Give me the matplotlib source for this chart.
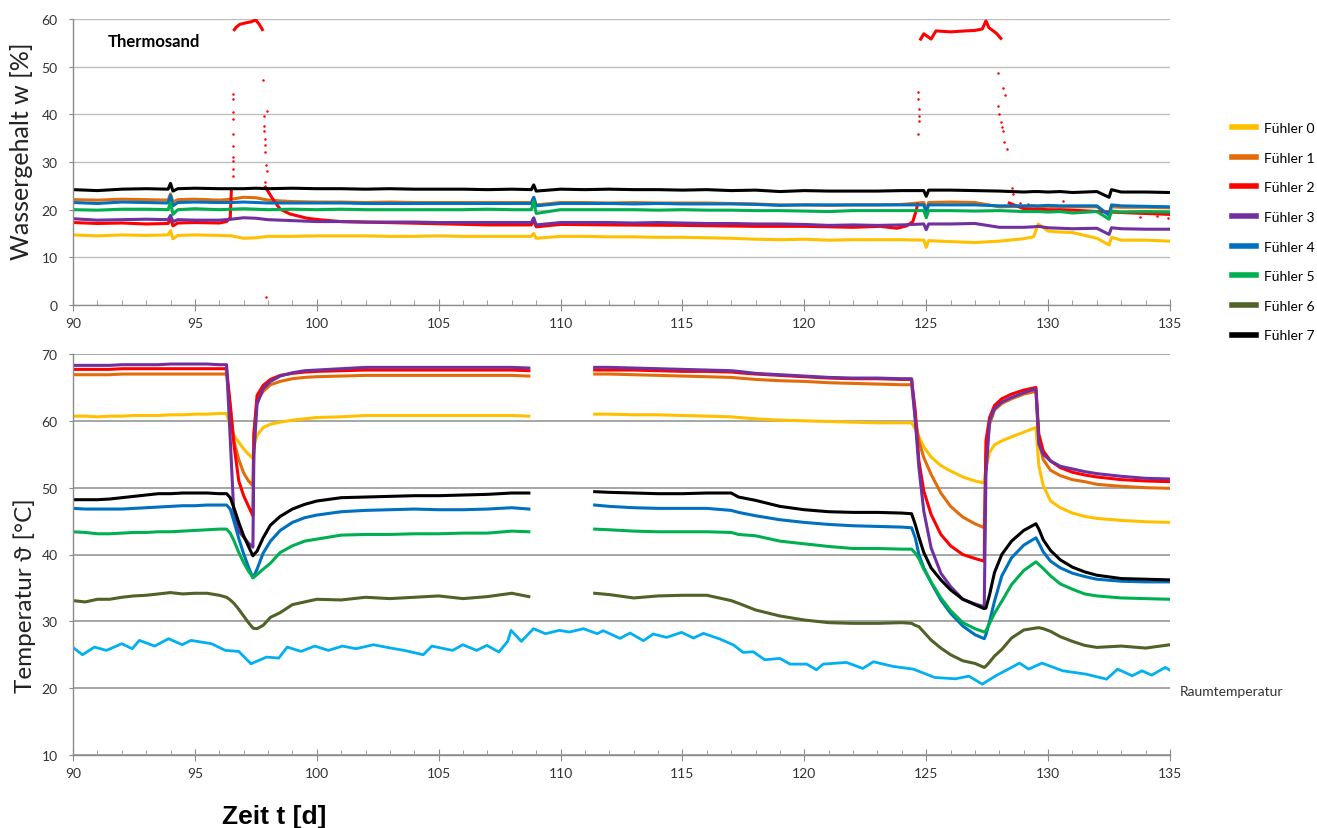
import matplotlib
matplotlib.use("Agg")
import matplotlib.pyplot as plt
from matplotlib.lines import Line2D
from matplotlib.ticker import MultipleLocator
import numpy as np

plt.rcParams["font.family"] = ["Lato", "DejaVu Sans"]

nan = np.nan

labels = ["Fühler 0", "Fühler 1", "Fühler 2", "Fühler 3",
          "Fühler 4", "Fühler 5", "Fühler 6", "Fühler 7"]
colors = ["#FFC000", "#E36C0A", "#FF0000", "#7030A0",
          "#0070C0", "#00B050", "#4F6228", "#000000"]
room_color = "#00B0F0"

# ---------------- Wassergehalt (top panel) ----------------
t_water = [90, 91, 92, 93, 93.9, 94.0, 94.1, 94.3, 95, 96, 96.5, 97, 97.5, 98, 99, 100,
           101, 102, 103, 104, 105, 106, 107, 108, 108.8, 108.9, 109.0, 110, 111, 112,
           113, 114, 115, 116, 117, 118, 119, 120, 121, 122, 123, 124, 124.9, 125.0, 125.1,
           126, 127, 128, 129, 129.4, 129.6, 130, 130.5, 131, 132, 132.5, 132.6, 133, 134, 135]

w0 = [14.7, 14.5, 14.7, 14.6, 14.7, 15.6, 13.9, 14.6, 14.7, 14.6, 14.5, 14.0, 14.1, 14.4, 14.4, 14.5,
      14.5, 14.5, 14.4, 14.4, 14.5, 14.4, 14.4, 14.4, 14.4, 15.0, 14.0, 14.4, 14.4, 14.3,
      14.3, 14.2, 14.2, 14.1, 14.0, 13.8, 13.7, 13.8, 13.6, 13.7, 13.7, 13.7, 13.6, 12.1, 13.5,
      13.3, 13.1, 13.4, 13.9, 14.3, 17.0, 15.5, 15.3, 15.2, 14.0, 12.6, 14.2, 13.6, 13.6, 13.4]
w1 = [22.1, 22.0, 22.2, 22.1, 22.0, 23.3, 21.6, 22.1, 22.2, 22.0, 22.2, 22.6, 22.5, 22.0, 21.7, 21.6,
      21.6, 21.5, 21.6, 21.5, 21.5, 21.5, 21.5, 21.5, 21.5, 22.5, 21.0, 21.5, 21.5, 21.4,
      21.5, 21.4, 21.4, 21.4, 21.3, 21.2, 21.0, 21.0, 20.9, 21.0, 21.0, 21.1, 21.5, 20.0, 21.5,
      21.6, 21.5, 20.6, 20.7, 20.8, 20.6, 20.7, 20.5, 20.6, 20.6, 19.0, 20.6, 20.5, 20.5, 20.4]
w3 = [18.1, 17.8, 17.9, 18.0, 17.9, 18.8, 17.5, 17.9, 17.8, 17.8, 18.0, 18.3, 18.2, 17.9, 17.7, 17.5,
      17.5, 17.4, 17.4, 17.4, 17.3, 17.3, 17.3, 17.3, 17.3, 18.3, 16.8, 17.3, 17.3, 17.3,
      17.2, 17.3, 17.2, 17.1, 17.1, 17.0, 17.0, 16.9, 16.7, 16.8, 16.7, 16.8, 17.0, 15.8, 17.0,
      17.0, 17.1, 16.3, 16.3, 16.4, 16.5, 16.2, 16.1, 16.0, 16.1, 14.8, 16.2, 16.0, 15.9, 15.9]
w4 = [21.5, 21.3, 21.6, 21.5, 21.4, 23.0, 20.8, 21.5, 21.6, 21.5, 21.5, 21.6, 21.5, 21.4, 21.4, 21.4,
      21.4, 21.3, 21.3, 21.3, 21.3, 21.3, 21.3, 21.3, 21.3, 22.6, 20.8, 21.3, 21.3, 21.3,
      21.2, 21.3, 21.2, 21.2, 21.2, 21.1, 20.9, 21.0, 21.0, 21.0, 21.0, 21.0, 21.0, 19.5, 21.0,
      21.0, 21.0, 20.8, 20.8, 20.8, 20.8, 20.9, 20.8, 20.8, 20.8, 18.8, 21.0, 20.8, 20.7, 20.6]
w5 = [20.0, 19.9, 20.1, 20.1, 20.0, 21.5, 19.0, 20.0, 20.2, 20.0, 20.1, 20.2, 20.1, 20.0, 20.1, 20.0,
      20.1, 20.0, 20.0, 20.0, 20.0, 20.0, 20.1, 20.0, 20.0, 21.8, 19.2, 20.0, 20.0, 20.0,
      20.0, 19.9, 20.0, 19.9, 19.9, 19.8, 19.8, 19.7, 19.6, 19.8, 19.8, 19.8, 19.8, 18.3, 19.8,
      19.8, 19.7, 19.8, 19.6, 19.6, 19.6, 19.5, 19.6, 19.3, 19.6, 18.0, 19.7, 19.5, 19.6, 19.5]
w7 = [24.2, 24.0, 24.3, 24.4, 24.3, 25.5, 23.9, 24.4, 24.5, 24.4, 24.4, 24.4, 24.5, 24.4, 24.5, 24.4,
      24.4, 24.3, 24.4, 24.3, 24.3, 24.3, 24.2, 24.3, 24.2, 25.2, 23.9, 24.3, 24.2, 24.3,
      24.2, 24.2, 24.1, 24.2, 24.0, 24.1, 23.8, 24.0, 23.9, 23.9, 23.9, 24.0, 24.0, 22.8, 24.1,
      24.1, 24.0, 23.9, 23.7, 23.8, 23.8, 23.7, 23.8, 23.6, 23.8, 22.6, 24.2, 23.7, 23.7, 23.6]

# Fühler 2 has its own time base (jumps to ~58 % twice)
t_w2 = [90, 91, 92, 93, 93.9, 94.0, 94.1, 94.3, 95, 96, 96.3, 96.45, 96.5, 96.55,
        96.58, 96.7, 96.85, 97.1, 97.3, 97.5, 97.65, 97.8, 97.83,
        97.86, 98.2, 98.5, 98.9, 99.6, 100.1, 101, 103.7, 107, 108.8, 108.9, 109.0,
        110, 112, 115, 118, 120, 122, 123.1, 123.8, 124.2, 124.45, 124.6, 124.65, 124.7,
        124.74, 124.9, 125.2, 125.4, 126.0, 126.6, 127.0, 127.3, 127.45, 127.57, 127.9, 128.1, 128.2,
        128.35, 129, 130, 131, 132, 133, 134, 135]
w2 = [17.3, 17.1, 17.2, 17.0, 17.1, 18.3, 16.6, 17.2, 17.3, 17.2, 17.5, 18.3, 24.5, nan,
      57.5, 58.3, 58.9, 59.2, 59.4, 59.8, 58.8, 57.5, nan,
      25.0, 22.2, 20.1, 19.1, 18.2, 17.9, 17.5, 17.2, 16.8, 16.8, 17.8, 16.4,
      16.9, 16.8, 16.7, 16.5, 16.5, 16.3, 16.5, 16.1, 16.6, 17.5, 20.0, 21.5, nan,
      55.5, 56.9, 55.8, 57.5, 57.3, 57.5, 57.6, 57.9, 59.6, 58.2, 56.9, 55.7, nan,
      21.5, 20.2, 20.0, 19.9, 19.6, 19.4, 19.2, 19.0]

# isolated Fühler 2 readings during the jumps
t_w2_dots = [96.55, 96.55, 96.56, 96.56, 96.56, 96.57, 96.57, 96.57, 96.58, 96.58,
             97.81, 97.95, 97.85, 97.85, 97.84, 97.86, 97.88, 97.88, 97.9, 97.94, 97.88, 97.9,
             124.67, 124.68, 124.7, 124.7, 124.72, 124.65,
             127.95, 128.16, 128.23, 127.95, 128.0, 128.08, 128.1, 128.15, 128.19, 128.3,
             128.5, 128.56, 128.84, 129.18, 130.62, 133.77, 134.45, 134.9]
w2_dots = [44.3, 43.2, 40.4, 39.0, 35.9, 33.4, 31.0, 30.3, 28.5, 27.1,
           47.1, 40.8, 39.6, 37.6, 36.5, 34.8, 33.5, 32.1, 29.3, 28.2, 25.8, 1.6,
           44.6, 43.2, 41.1, 39.6, 38.6, 35.8,
           48.7, 45.5, 44.0, 41.8, 40.0, 38.3, 37.3, 36.5, 34.3, 32.7,
           24.6, 23.2, 21.4, 21.1, 21.8, 18.4, 18.6, 18.2]

# ---------------- Temperatur (bottom panel) ----------------
t_temp = [90, 90.5, 91, 91.5, 92, 92.5, 93, 93.5, 94, 94.5, 95, 95.5, 96, 96.3,
          96.45, 96.6, 96.8, 97.0, 97.2, 97.38, 97.42, 97.55, 97.8, 98.1, 98.5, 99, 99.5, 100,
          101, 102, 103, 104, 105, 106, 107, 108, 108.7,
          110,
          111.4, 112, 113, 114, 115, 116, 117, 117.3, 118, 119, 120, 121, 122, 123, 124, 124.4,
          124.55, 124.7, 124.9, 125.2, 125.6, 126, 126.5, 127, 127.38, 127.45, 127.6, 127.8, 128.1,
          128.5, 129, 129.5, 129.62, 129.8, 130.1, 130.5, 131, 131.5, 132, 133, 134, 135]

T0 = [60.7, 60.7, 60.6, 60.7, 60.7, 60.8, 60.8, 60.8, 60.9, 60.9, 61.0, 61.0, 61.1, 61.1,
      59.3, 57.8, 56.8, 55.8, 55.0, 54.4, 56.3, 57.8, 59.0, 59.5, 59.8, 60.1, 60.3, 60.5,
      60.6, 60.8, 60.8, 60.8, 60.8, 60.8, 60.8, 60.8, 60.7,
      nan,
      61.0, 61.0, 60.9, 60.9, 60.8, 60.7, 60.6, 60.5, 60.3, 60.1, 60.0, 59.9, 59.8, 59.7, 59.7, 59.7,
      58.8, 57.6, 56.1, 54.6, 53.3, 52.5, 51.6, 51.0, 50.7, 53.0, 55.3, 56.4, 57.0,
      57.6, 58.3, 59.0, 53.3, 50.3, 48.0, 47.0, 46.2, 45.7, 45.4, 45.1, 44.9, 44.8]
T1 = [66.9, 66.9, 66.9, 66.9, 67.0, 67.0, 67.0, 67.0, 67.0, 67.0, 67.0, 67.0, 67.0, 67.0,
      62.0, 57.0, 54.2, 52.2, 51.0, 50.3, 58.0, 63.0, 64.4, 65.4, 65.9, 66.3, 66.5, 66.6,
      66.7, 66.8, 66.8, 66.8, 66.8, 66.8, 66.8, 66.8, 66.7,
      nan,
      67.0, 67.0, 66.9, 66.8, 66.7, 66.6, 66.5, 66.4, 66.2, 66.0, 65.9, 65.7, 65.6, 65.5, 65.4, 65.4,
      60.5, 57.0, 54.5, 52.0, 49.2, 47.2, 45.6, 44.6, 44.0, 55.0, 59.5, 61.6, 62.6,
      63.3, 64.0, 64.4, 57.0, 54.2, 52.6, 51.8, 51.2, 50.9, 50.5, 50.2, 50.0, 49.9]
T2 = [67.7, 67.7, 67.7, 67.7, 67.8, 67.8, 67.8, 67.8, 67.8, 67.8, 67.8, 67.8, 67.8, 67.8,
      62.5, 56.5, 51.0, 48.8, 47.2, 45.8, 58.0, 63.8, 65.3, 66.2, 66.8, 67.1, 67.3, 67.4,
      67.5, 67.6, 67.6, 67.6, 67.6, 67.6, 67.6, 67.6, 67.5,
      nan,
      67.6, 67.6, 67.6, 67.5, 67.4, 67.4, 67.3, 67.2, 67.0, 66.8, 66.6, 66.4, 66.3, 66.3, 66.2, 66.2,
      61.5, 54.0, 49.5, 46.0, 43.0, 41.3, 40.0, 39.4, 39.0, 57.0, 60.5, 62.3, 63.3,
      64.0, 64.6, 65.0, 58.0, 55.5, 54.0, 53.0, 52.3, 51.9, 51.6, 51.2, 51.0, 50.9]
T3 = [68.3, 68.3, 68.3, 68.3, 68.4, 68.4, 68.4, 68.4, 68.5, 68.5, 68.5, 68.5, 68.4, 68.4,
      57.3, 46.0, 43.5, 42.6, 41.7, 41.1, 55.0, 62.5, 64.8, 65.9, 66.7, 67.2, 67.5, 67.6,
      67.8, 68.0, 68.0, 68.0, 68.0, 68.0, 68.0, 68.0, 67.9,
      nan,
      68.0, 68.0, 67.9, 67.8, 67.7, 67.6, 67.5, 67.4, 67.1, 66.9, 66.7, 66.5, 66.4, 66.4, 66.3, 66.3,
      60.0, 53.0, 46.5, 41.0, 37.2, 35.2, 33.3, 32.6, 32.2, 52.0, 60.0, 61.8, 62.8,
      63.5, 64.2, 64.8, 56.5, 55.0, 54.0, 53.2, 52.8, 52.4, 52.1, 51.7, 51.4, 51.3]
T4 = [46.9, 46.8, 46.8, 46.8, 46.8, 46.9, 47.0, 47.1, 47.2, 47.3, 47.3, 47.4, 47.4, 47.4,
      46.8, 45.0, 42.4, 40.1, 38.1, 36.5, 36.8, 37.8, 40.2, 42.0, 43.6, 44.8, 45.5, 45.9,
      46.4, 46.6, 46.7, 46.8, 46.7, 46.7, 46.8, 47.0, 46.8,
      nan,
      47.4, 47.2, 47.0, 46.9, 46.9, 46.9, 46.6, 46.3, 45.8, 45.2, 44.8, 44.5, 44.3, 44.2, 44.1, 44.0,
      42.5, 40.0, 38.0, 35.8, 33.2, 31.2, 29.3, 28.0, 27.4, 28.0, 30.0, 33.0, 36.8,
      39.5, 41.4, 42.5, 41.7, 40.4, 39.0, 38.0, 37.2, 36.7, 36.3, 36.0, 35.9, 35.9]
T5 = [43.4, 43.3, 43.1, 43.1, 43.2, 43.3, 43.3, 43.4, 43.4, 43.5, 43.6, 43.7, 43.8, 43.8,
      43.2, 42.1, 40.3, 38.8, 37.5, 36.6, 36.6, 37.0, 37.8, 38.7, 40.3, 41.3, 42.0, 42.3,
      42.9, 43.0, 43.0, 43.1, 43.1, 43.2, 43.2, 43.5, 43.4,
      nan,
      43.8, 43.7, 43.5, 43.4, 43.4, 43.4, 43.3, 43.0, 42.8, 42.0, 41.6, 41.2, 40.9, 40.9, 40.8, 40.8,
      40.2, 39.4, 37.8, 35.9, 33.5, 31.6, 29.8, 28.9, 28.4, 28.6, 29.7, 31.2, 33.0,
      35.5, 37.6, 38.9, 38.5, 37.9, 36.8, 35.6, 34.8, 34.1, 33.8, 33.5, 33.4, 33.3]
T6 = [33.1, 32.9, 33.3, 33.3, 33.6, 33.8, 33.9, 34.1, 34.3, 34.1, 34.2, 34.2, 33.9, 33.6,
      33.2, 32.7, 31.8, 30.8, 29.8, 29.0, 28.95, 28.9, 29.4, 30.6, 31.3, 32.5, 32.9, 33.3,
      33.2, 33.6, 33.4, 33.6, 33.8, 33.4, 33.7, 34.2, 33.7,
      nan,
      34.2, 34.0, 33.5, 33.8, 33.9, 33.9, 33.1, 32.7, 31.7, 30.8, 30.2, 29.8, 29.7, 29.7, 29.8, 29.7,
      29.4, 29.2, 28.4, 27.2, 26.0, 25.0, 24.1, 23.7, 23.1, 23.3, 23.9, 24.8, 25.8,
      27.5, 28.7, 29.0, 29.05, 28.9, 28.5, 27.7, 27.0, 26.4, 26.1, 26.3, 26.0, 26.5]
T7 = [48.2, 48.2, 48.2, 48.3, 48.5, 48.7, 48.9, 49.1, 49.1, 49.2, 49.2, 49.2, 49.1, 49.1,
      48.5, 47.0, 44.8, 42.8, 41.2, 39.8, 40.0, 40.5, 42.5, 44.4, 45.7, 46.8, 47.5, 48.0,
      48.5, 48.6, 48.7, 48.8, 48.8, 48.9, 49.0, 49.2, 49.2,
      nan,
      49.4, 49.3, 49.2, 49.1, 49.1, 49.2, 49.2, 48.6, 48.1, 47.2, 46.7, 46.4, 46.3, 46.3, 46.2, 46.1,
      44.5, 42.6, 40.3, 38.0, 36.2, 34.7, 33.3, 32.5, 31.9, 32.0, 34.0, 37.3, 40.0,
      42.0, 43.6, 44.6, 43.8, 42.2, 40.6, 39.2, 38.1, 37.4, 36.9, 36.4, 36.3, 36.2]

# Raumtemperatur
t_room = [90.03, 90.39, 90.88, 91.37, 92.0, 92.43, 92.72, 93.35, 93.92, 94.48,
          94.84, 95.68, 96.25, 96.8, 97.3, 97.94, 98.44, 98.79, 99.35, 99.92,
          100.48, 101.05, 101.61, 102.32, 103.03, 103.59, 104.37, 104.72, 105.57, 105.99,
          106.56, 106.98, 107.47, 107.83, 107.97, 108.39, 108.89, 109.38, 109.95, 110.37,
          110.94, 111.5, 111.75, 112.44, 112.85, 113.4, 113.8, 114.35, 114.97, 115.45,
          115.86, 116.54, 117.1, 117.49, 117.9, 118.38, 119.0, 119.41, 120.1, 120.5,
          120.77, 121.73, 122.4, 122.83, 123.65, 124.47, 125.35, 126.2, 126.75, 127.3,
          127.85, 128.83, 129.2, 129.75, 130.6, 131.55, 132.4, 132.85, 133.45, 133.85,
          134.25, 134.8, 135.0]
T_room = [26.0, 25.0, 26.15, 25.65, 26.65, 25.9, 27.15, 26.3, 27.4, 26.5,
          27.15, 26.65, 25.65, 25.5, 23.65, 24.65, 24.5, 26.15, 25.5, 26.3,
          25.65, 26.3, 25.9, 26.5, 26.0, 25.65, 25.0, 26.3, 25.65, 26.5,
          25.65, 26.4, 25.4, 27.0, 28.65, 27.0, 28.9, 28.15, 28.65, 28.4,
          28.9, 28.15, 28.6, 27.45, 28.25, 27.1, 28.1, 27.6, 28.35, 27.5,
          28.2, 27.35, 26.45, 25.35, 25.45, 24.25, 24.45, 23.6, 23.6, 22.75,
          23.6, 23.85, 22.95, 23.95, 23.25, 22.85, 21.6, 21.4, 21.8, 20.6,
          21.85, 23.75, 22.85, 23.75, 22.6, 22.1, 21.35, 22.85, 21.85, 22.6,
          21.95, 23.1, 22.7]

water = {0: w0, 1: w1, 3: w3, 4: w4, 5: w5, 7: w7}
temps = [T0, T1, T2, T3, T4, T5, T6, T7]

W, H = 1317, 829
fig = plt.figure(figsize=(W / 100, H / 100), dpi=100)
ax1 = fig.add_axes([73 / W, 1 - 306 / H, 1097 / W, 286 / H])
ax2 = fig.add_axes([73 / W, 1 - 756 / H, 1097 / W, 401 / H])

axis_gray = "#8c8c8c"


def style(ax, ymin, ymax, grid_color, grid_lw):
    ax.set_xlim(90, 135)
    ax.set_ylim(ymin, ymax)
    ax.xaxis.set_major_locator(MultipleLocator(5))
    ax.xaxis.set_minor_locator(MultipleLocator(1))
    ax.yaxis.set_major_locator(MultipleLocator(10))
    for s in ["top", "right"]:
        ax.spines[s].set_visible(False)
    for s in ["left", "bottom"]:
        ax.spines[s].set_color(axis_gray)
        ax.spines[s].set_linewidth(1.0)
    ax.grid(axis="y", color=grid_color, lw=grid_lw)
    ax.set_axisbelow(True)
    ax.tick_params(axis="x", which="major", direction="inout", length=8,
                   color=axis_gray, labelsize=10, labelcolor="#333333", pad=5)
    ax.tick_params(axis="x", which="minor", direction="in", length=3.5, color=axis_gray)
    ax.tick_params(axis="y", which="major", direction="out", length=3,
                   color=axis_gray, labelsize=10, labelcolor="#333333", pad=8)


style(ax1, 0, 60, "#bfbfbf", 1.0)
style(ax2, 10, 70, "#a6a6a6", 1.4)

# top panel
for i in range(8):
    if i == 2:
        ax1.plot(t_w2, w2, color=colors[2], lw=2.2, solid_capstyle="butt")
        ax1.plot(t_w2_dots, w2_dots, ls="none", marker="o", ms=1.8,
                 color=colors[2], mec="none")
    elif i in water:
        ax1.plot(t_water, water[i], color=colors[i], lw=2.2)

# bottom panel
ax2.plot(t_room, T_room, color=room_color, lw=2.0)
for i in range(8):
    ax2.plot(t_temp, temps[i], color=colors[i], lw=2.2)

# texts
fig.text(108 / W, 1 - 42 / H, "Thermosand", fontsize=12, fontweight="bold", va="center")
fig.text(1180 / W, 1 - 692 / H, "Raumtemperatur", fontsize=10, va="center", color="#333333")
fig.text(22 / W, 1 - 151 / H, "Wassergehalt w [%]", fontsize=18, rotation=90,
         ha="center", va="center", color="#222222")
fig.text(25 / W, 1 - 596 / H, "Temperatur ϑ [°C]", fontsize=17.5, rotation=90,
         ha="center", va="center", color="#222222")
fig.text(222 / W, 5 / H, "Zeit t [d]", fontsize=19, fontweight="bold",
         family="Liberation Sans", va="baseline")

handles = [Line2D([], [], color=c, lw=4) for c in colors]
fig.legend(handles, labels, loc="upper left", bbox_to_anchor=(1232 / W, 1 - 123 / H),
           frameon=False, fontsize=10, handlelength=1.7, handletextpad=0.6,
           labelspacing=1.27, borderaxespad=0, borderpad=0)

fig.savefig("out.png", dpi=100)
